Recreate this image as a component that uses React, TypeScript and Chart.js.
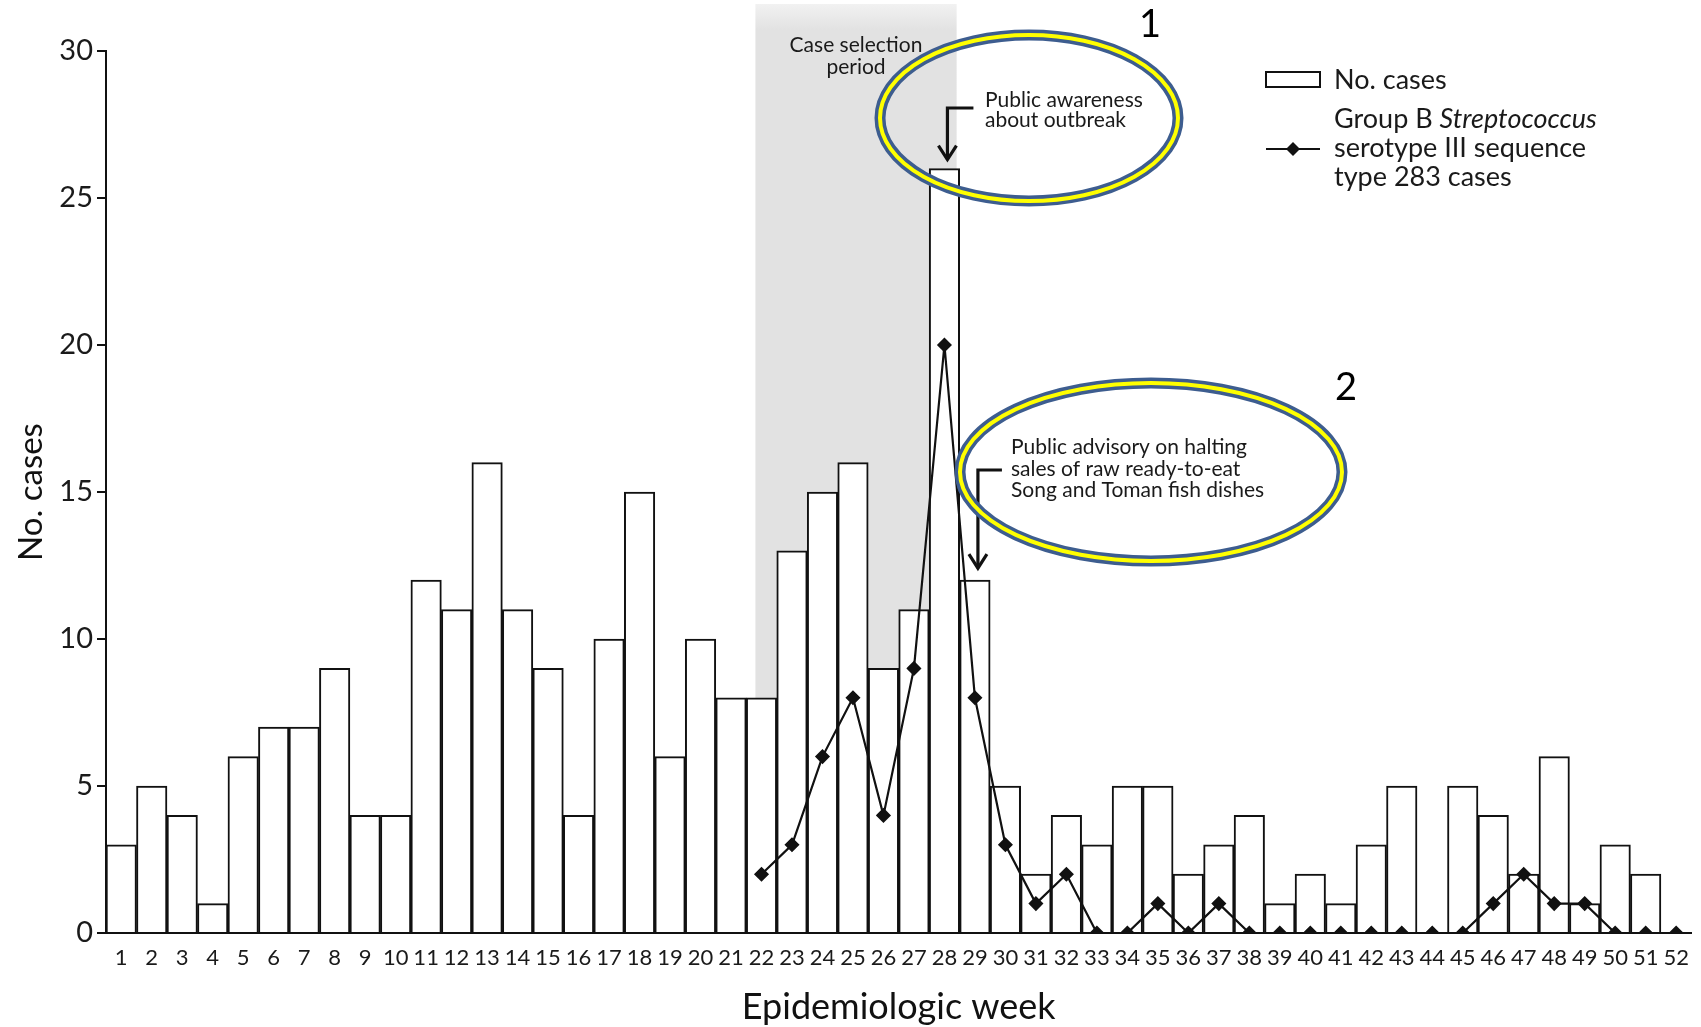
import React, { useEffect, useRef } from 'react';
import { Chart, registerables } from 'chart.js';

Chart.register(...registerables);

const weekLabels = ['1','2','3','4','5','6','7','8','9','10','11','12','13','14','15','16','17','18','19','20','21','22','23','24','25','26','27','28','29','30','31','32','33','34','35','36','37','38','39','40','41','42','43','44','45','46','47','48','49','50','51','52'];

const totalCases = [3,5,4,1,6,7,7,9,4,4,12,11,16,11,9,4,10,15,6,10,8,8,13,15,16,9,11,26,12,5,2,4,3,5,5,2,3,4,1,2,1,3,5,0,5,4,2,6,1,3,2,0];

const gbsCases = [null,null,null,null,null,null,null,null,null,null,null,null,null,null,null,null,null,null,null,null,null,2,3,6,8,4,9,20,8,3,1,2,0,0,1,0,1,0,0,0,0,0,0,0,0,1,2,1,1,0,0,0];

const yTicks = [0, 5, 10, 15, 20, 25, 30];

const shadeFromWeek = 21.8;
const shadeToWeek = 28.4;
const awarenessWeek = 28;
const advisoryWeek = 29;

const FONT = "Lato, 'Open Sans', sans-serif";

const annotPlugin = {
  id: 'annot',
  beforeDraw(chart: any) {
    const { ctx, chartArea, scales } = chart;
    const x = scales.x;
    ctx.save();
    ctx.fillStyle = '#ffffff';
    ctx.fillRect(0, 0, chart.width, chart.height);
    const x0 = x.getPixelForValue(shadeFromWeek - 1);
    const x1 = x.getPixelForValue(shadeToWeek - 1);
    const grad = ctx.createLinearGradient(0, 0, 0, 30);
    grad.addColorStop(0, '#f4f4f4');
    grad.addColorStop(1, '#e2e2e2');
    ctx.fillStyle = grad;
    ctx.fillRect(x0, 4, x1 - x0, chartArea.bottom - 4);
    ctx.restore();
  },
  afterDraw(chart: any) {
    const { ctx, scales } = chart;
    const x = scales.x;
    const y = scales.y;
    ctx.save();
    ctx.fillStyle = '#1a1a1a';
    ctx.textBaseline = 'middle';

    // Case selection period
    ctx.font = `21px ${FONT}`;
    ctx.textAlign = 'center';
    ctx.fillText('Case selection', 856, 45);
    ctx.fillText('period', 856, 67);

    const arrow = (cx: number, topY: number, tipY: number, armLen: number) => {
      ctx.strokeStyle = '#111';
      ctx.lineWidth = 3.2;
      ctx.beginPath();
      ctx.moveTo(cx + armLen, topY);
      ctx.lineTo(cx, topY);
      ctx.lineTo(cx, tipY);
      ctx.stroke();
      ctx.beginPath();
      ctx.moveTo(cx - 9, tipY - 14);
      ctx.lineTo(cx, tipY);
      ctx.lineTo(cx + 9, tipY - 14);
      ctx.stroke();
    };

    // Annotation 1
    const ax1 = x.getPixelForValue(awarenessWeek - 1) + 3;
    const tip1 = y.getPixelForValue(totalCases[awarenessWeek - 1]) - 9;
    arrow(ax1, 108, tip1, 26);
    ctx.textAlign = 'left';
    ctx.font = `21px ${FONT}`;
    ctx.fillText('Public awareness', 985, 100);
    ctx.fillText('about outbreak', 985, 120);

    // Annotation 2
    const ax2 = x.getPixelForValue(advisoryWeek - 1) + 3;
    const tip2 = y.getPixelForValue(totalCases[advisoryWeek - 1]) - 12;
    arrow(ax2, 470, tip2, 24);
    ctx.fillText('Public advisory on halting', 1011, 447);
    ctx.fillText('sales of raw ready-to-eat', 1011, 469);
    ctx.fillText('Song and Toman fish dishes', 1011, 490);

    // Ellipses
    const ell = (cx: number, cy: number, rx: number, ry: number) => {
      ctx.beginPath();
      ctx.ellipse(cx, cy, rx, ry, 0, 0, Math.PI * 2);
      ctx.strokeStyle = '#3d5d8f';
      ctx.lineWidth = 11;
      ctx.stroke();
      ctx.beginPath();
      ctx.ellipse(cx, cy, rx, ry, 0, 0, Math.PI * 2);
      ctx.strokeStyle = '#ffff00';
      ctx.lineWidth = 4;
      ctx.stroke();
    };
    ell(1029, 118, 149, 83);
    ell(1151, 472, 191, 89);

    ctx.fillStyle = '#000';
    ctx.font = `38px ${FONT}`;
    ctx.textAlign = 'center';
    ctx.fillText('1', 1150, 25);
    ctx.fillText('2', 1346, 388);

    // Legend
    ctx.strokeStyle = '#111';
    ctx.lineWidth = 2;
    ctx.fillStyle = '#fff';
    ctx.fillRect(1266, 72, 54, 15);
    ctx.strokeRect(1266, 72, 54, 15);
    ctx.fillStyle = '#1a1a1a';
    ctx.textAlign = 'left';
    ctx.font = `27px ${FONT}`;
    ctx.fillText('No. cases', 1334, 80);
    ctx.fillText('Group B ', 1334, 119);
    const gw = ctx.measureText('Group B ').width;
    ctx.font = `italic 27px ${FONT}`;
    ctx.fillText('Streptococcus', 1334 + gw, 119);
    ctx.font = `27px ${FONT}`;
    ctx.fillText('serotype III sequence', 1334, 148);
    ctx.fillText('type 283 cases', 1334, 177);
    ctx.beginPath();
    ctx.moveTo(1266, 149);
    ctx.lineTo(1320, 149);
    ctx.stroke();
    ctx.fillStyle = '#111';
    ctx.beginPath();
    ctx.moveTo(1293, 142);
    ctx.lineTo(1300, 149);
    ctx.lineTo(1293, 156);
    ctx.lineTo(1286, 149);
    ctx.closePath();
    ctx.fill();

    ctx.restore();
  },
};

export default function App() {
  const ref = useRef<HTMLCanvasElement | null>(null);

  useEffect(() => {
    document.body.style.margin = '0';
    const canvas = ref.current;
    if (!canvas) return;
    const chart = new Chart(canvas, {
      type: 'bar',
      data: {
        labels: weekLabels,
        datasets: [
          {
            type: 'line',
            label: 'Group B Streptococcus serotype III sequence type 283 cases',
            data: gbsCases as any,
            borderColor: '#111',
            borderWidth: 2.2,
            pointStyle: 'rectRot',
            pointRadius: 6,
            pointBackgroundColor: '#111',
            pointBorderColor: '#111',
            tension: 0,
            order: 0,
          } as any,
          {
            type: 'bar',
            label: 'No. cases',
            data: totalCases,
            backgroundColor: '#ffffff',
            borderColor: '#111',
            borderWidth: 2,
            barPercentage: 1,
            categoryPercentage: 1,
            order: 1,
          },
        ],
      },
      options: {
        animation: false,
        responsive: false,
        maintainAspectRatio: false,
        devicePixelRatio: 1,
        layout: { padding: { top: 51, right: 4, bottom: 0, left: 0 } },
        plugins: {
          legend: { display: false },
          tooltip: { enabled: false },
        },
        scales: {
          x: {
            afterFit: (s: any) => { s.height = 94; },
            grid: { display: false, drawTicks: false },
            border: { display: true, color: '#111', width: 2 },
            ticks: {
              autoSkip: false,
              maxRotation: 0,
              minRotation: 0,
              padding: 12,
              color: '#1a1a1a',
              font: { family: FONT, size: 22 },
            },
            title: {
              display: true,
              text: 'Epidemiologic week',
              color: '#111',
              font: { family: FONT, size: 36 },
              padding: { top: 0, bottom: -2 },
            },
          },
          y: {
            min: 0,
            max: 30,
            afterFit: (s: any) => { s.width = 106; },
            afterBuildTicks: (s: any) => { s.ticks = yTicks.map((v) => ({ value: v })); },
            grid: { display: true, drawOnChartArea: false, drawTicks: true, tickLength: 9, color: '#111', lineWidth: 2 },
            border: { display: true, color: '#111', width: 2 },
            ticks: {
              padding: 4,
              color: '#1a1a1a',
              font: { family: FONT, size: 29 },
            },
            title: {
              display: true,
              text: 'No. cases',
              color: '#111',
              font: { family: FONT, size: 33 },
              padding: { top: 12, bottom: 0 },
            },
          },
        },
      },
      plugins: [annotPlugin],
    });
    return () => chart.destroy();
  }, []);

  return (
    <div style={{ position: 'absolute', left: 0, top: 0, width: 1701, height: 1027, background: '#fff' }}>
      <canvas ref={ref} width={1701} height={1027} style={{ display: 'block', width: 1701, height: 1027 }} />
    </div>
  );
}
